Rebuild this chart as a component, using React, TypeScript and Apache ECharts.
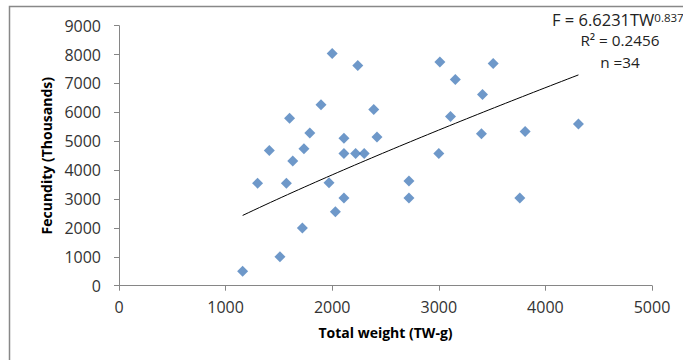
import React, { useEffect, useRef } from "react";
import * as echarts from "echarts";

const totalWeight = [
  1160, 1510, 1720, 1300, 1570, 1410, 1630, 1735, 1790, 2110, 2420, 2110,
  2220, 2300, 1970, 2110, 2030, 2720, 2720, 2000, 2240, 1895, 2390, 1600,
  3010, 3510, 3155, 3410, 3110, 3400, 3810, 4310, 3000, 3760,
];
const fecundity = [
  500, 1000, 2000, 3550, 3550, 4680, 4320, 4740, 5290, 5100, 5150, 4580,
  4580, 4580, 3560, 3040, 2560, 3620, 3040, 8040, 7620, 6260, 6100, 5800,
  7740, 7690, 7140, 6620, 5860, 5260, 5340, 5600, 4580, 3040,
];
const xTicks = [0, 1000, 2000, 3000, 4000, 5000];
const yTicks = [0, 1000, 2000, 3000, 4000, 5000, 6000, 7000, 8000, 9000];
const trendA = 6.6231;
const trendB = 0.837;
const equationMain = "F = 6.6231TW";
const equationExp = "0.837";
const rSquaredText = "R² = 0.2456";
const nText = "n =34";
const xTitle = "Total weight (TW-g)";
const yTitle = "Fecundity (Thousands)";

const FONT = "'Open Sans', 'Liberation Sans', sans-serif";

export default function App() {
  const ref = useRef<HTMLDivElement>(null);
  useEffect(() => {
    if (!ref.current) return;
    const chart = echarts.init(ref.current, undefined, { renderer: "svg" });
    const points = totalWeight.map((x, i) => [x, fecundity[i]]);
    const xmin = Math.min(...totalWeight);
    const xmax = Math.max(...totalWeight);
    const trend: number[][] = [];
    const steps = 60;
    for (let i = 0; i <= steps; i++) {
      const x = xmin + ((xmax - xmin) * i) / steps;
      trend.push([x, trendA * Math.pow(x, trendB)]);
    }
    const axisColor = "#868686";
    const plain = (v: number) => String(v);
    const noteStyle = {
      fontFamily: FONT,
      fontSize: 15.3,
      lineHeight: 16,
      fill: "#222",
      textAlign: "center",
      textVerticalAlign: "middle",
    };
    chart.setOption({
      animation: false,
      grid: { left: 119, right: 31, top: 25.7, bottom: 74.3 },
      xAxis: {
        type: "value",
        min: xTicks[0],
        max: xTicks[xTicks.length - 1],
        interval: 1000,
        name: xTitle,
        nameLocation: "middle",
        nameGap: 40,
        nameTextStyle: { fontFamily: FONT, fontWeight: "bold", fontSize: 14, color: "#000" },
        axisLine: { show: true, lineStyle: { color: axisColor, width: 1 } },
        axisTick: { show: true, length: 5, lineStyle: { color: axisColor } },
        splitLine: { show: false },
        axisLabel: { fontFamily: FONT, fontSize: 16, color: "#333", margin: 13, formatter: plain },
      },
      yAxis: {
        type: "value",
        min: yTicks[0],
        max: yTicks[yTicks.length - 1],
        interval: 1000,
        name: yTitle,
        nameLocation: "middle",
        nameRotate: 90,
        nameGap: 63,
        nameTextStyle: { fontFamily: FONT, fontWeight: "bold", fontSize: 14, color: "#000" },
        axisLine: { show: true, lineStyle: { color: axisColor, width: 1 } },
        axisTick: { show: true, length: 5, lineStyle: { color: axisColor } },
        splitLine: { show: false },
        axisLabel: { fontFamily: FONT, fontSize: 16, color: "#333", margin: 18, formatter: plain },
      },
      series: [
        {
          type: "scatter",
          data: points,
          symbol: "diamond",
          symbolSize: 11,
          itemStyle: { color: "#4A7EBB" },
          z: 3,
        },
        {
          type: "line",
          data: trend,
          showSymbol: false,
          symbol: "none",
          smooth: false,
          lineStyle: { color: "#000", width: 1 },
          z: 2,
        },
      ],
      graphic: [
        {
          type: "rect",
          shape: { x: 9.5, y: 6.5, width: 720, height: 400 },
          style: { fill: "none", stroke: "#888", lineWidth: 1.5 },
          silent: true,
        },
        {
          type: "text",
          x: 552,
          y: 19.5,
          style: {
            text: equationMain + "{s|" + equationExp + "}",
            fontFamily: FONT,
            fontSize: 16.5,
            lineHeight: 17,
            fill: "#222",
            textAlign: "left",
            textVerticalAlign: "middle",
            rich: { s: { fontFamily: FONT, fontSize: 11.5, lineHeight: 17, fill: "#222", verticalAlign: "top" } },
          },
        },
        {
          type: "text",
          x: 620,
          y: 40.3,
          style: { ...noteStyle, text: rSquaredText },
        },
        {
          type: "text",
          x: 620,
          y: 61.5,
          style: { ...noteStyle, text: nText },
        },
      ],
    });
    return () => chart.dispose();
  }, []);
  return (
    <div
      ref={ref}
      style={{ position: "fixed", left: 0, top: 0, width: 683, height: 360, background: "#fff" }}
    />
  );
}
